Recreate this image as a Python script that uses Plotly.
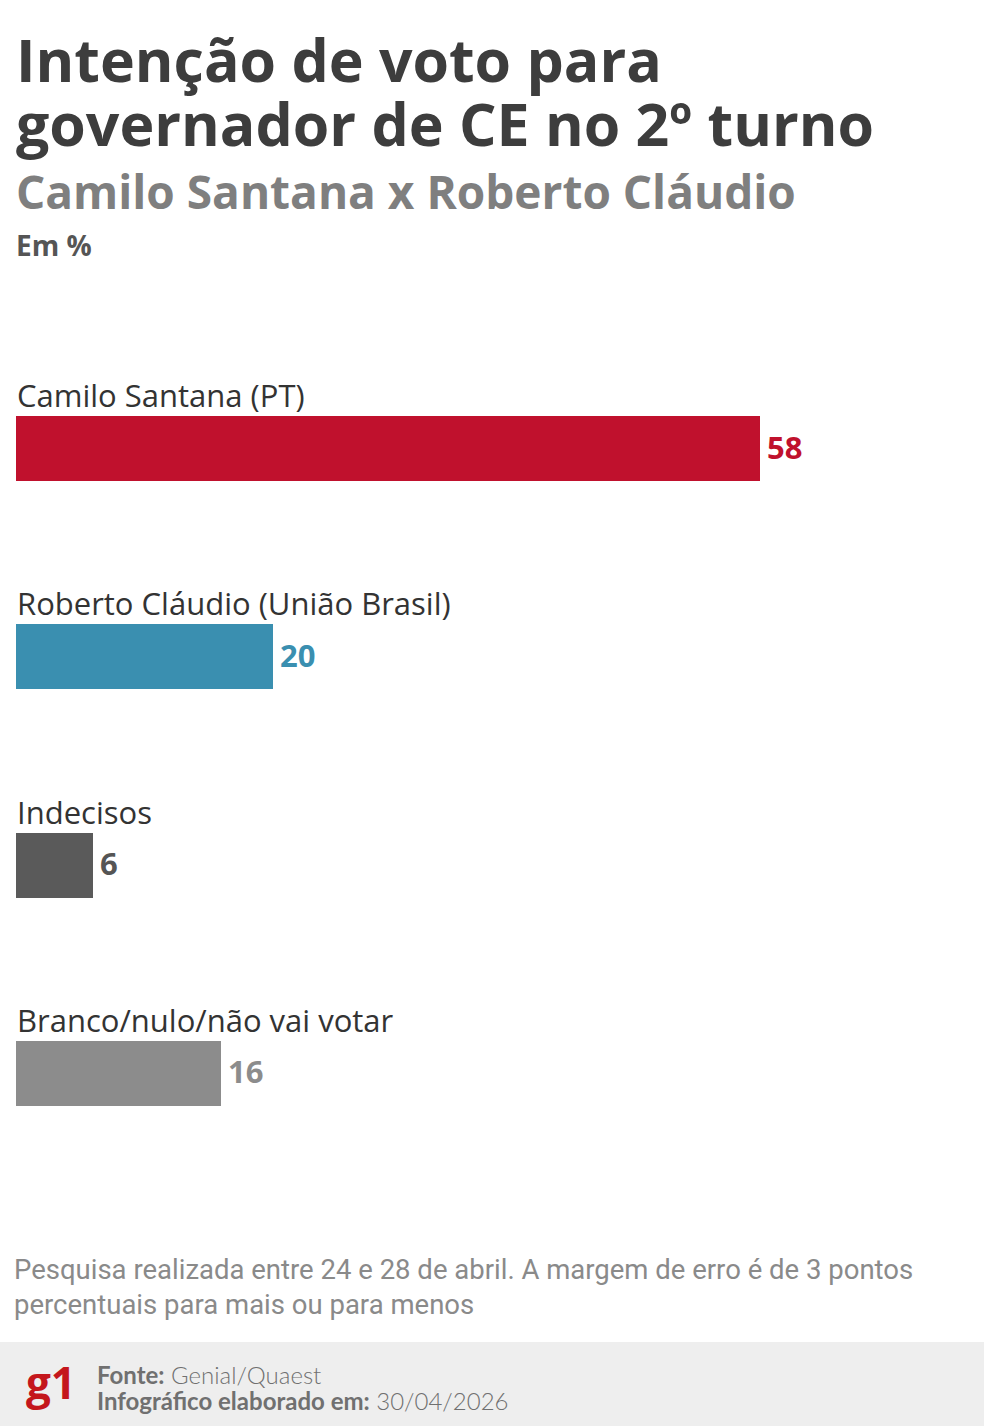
import plotly.graph_objects as go

W, H = 984, 1426

categories = ["Camilo Santana (PT)", "Roberto Cláudio (União Brasil)", "Indecisos", "Branco/nulo/não vai votar"]
values = [58, 20, 6, 16]
bar_colors = ["#c0112d", "#3a8fb0", "#5a5a5a", "#8c8c8c"]
label_colors = ["#c0112d", "#3a8fb0", "#555555", "#8c8c8c"]

title_lines = ["Intenção de voto para", "governador de CE no 2º turno"]
subtitle = "Camilo Santana x Roberto Cláudio"
unit = "Em %"
note_lines = ["Pesquisa realizada entre 24 e 28 de abril. A margem de erro é de 3 pontos",
              "percentuais para mais ou para menos"]
source = "Genial/Quaest"
date = "30/04/2026"

px_per_unit = 744 / 58
x0_px = 16
step_px = 208.3
first_center_px = 448.5

ypos = list(range(len(categories)))

fig = go.Figure()
fig.add_trace(go.Bar(
    x=values, y=ypos, orientation="h", width=65 / step_px,
    marker=dict(color=bar_colors, line=dict(width=0)),
    hoverinfo="skip", showlegend=False,
))

def py(p):
    return 1 - p / H

ann = []
# titles
ann.append(dict(text="<b>" + title_lines[0] + "</b>", x=14 / W, y=py(59), xref="paper", yref="paper",
                xanchor="left", yanchor="middle", showarrow=False,
                font=dict(family="Open Sans", size=59, color="#3d3d3d")))
ann.append(dict(text="<b>" + title_lines[1] + "</b>", x=14 / W, y=py(123), xref="paper", yref="paper",
                xanchor="left", yanchor="middle", showarrow=False,
                font=dict(family="Open Sans", size=59, color="#3d3d3d")))
ann.append(dict(text="<b>" + subtitle + "</b>", x=14 / W, y=py(191), xref="paper", yref="paper",
                xanchor="left", yanchor="middle", showarrow=False,
                font=dict(family="Open Sans", size=46, color="#7f7f7f")))
ann.append(dict(text="<b>" + unit + "</b>", x=14 / W, y=py(245), xref="paper", yref="paper",
                xanchor="left", yanchor="middle", showarrow=False,
                font=dict(family="Open Sans", size=28, color="#555555")))

# category labels and values
for i, (c, v) in enumerate(zip(categories, values)):
    ann.append(dict(text=c, x=0, y=i - 53.5 / step_px, xref="x", yref="y",
                    xanchor="left", yanchor="middle", showarrow=False, xshift=-1,
                    font=dict(family="Open Sans", size=31, color="#333333")))
    ann.append(dict(text="<b>" + str(v) + "</b>", x=v, y=i, xref="x", yref="y",
                    xanchor="left", yanchor="middle", showarrow=False, xshift=5, yshift=2,
                    font=dict(family="Open Sans", size=31, color=label_colors[i])))

# notes
for j, (line, cy) in enumerate(zip(note_lines, [1269, 1304])):
    ann.append(dict(text=line, x=12 / W, y=py(cy), xref="paper", yref="paper",
                    xanchor="left", yanchor="middle", showarrow=False,
                    font=dict(family="Roboto", size=27.5, color="#8a8a8a")))

# footer
ann.append(dict(text="<b>g1</b>", x=24 / W, y=py(1382), xref="paper", yref="paper",
                xanchor="left", yanchor="middle", showarrow=False,
                font=dict(family="Open Sans", size=44, color="#c4161c")))
ann.append(dict(text="<b>Fonte:</b> " + source, x=95 / W, y=py(1374), xref="paper", yref="paper",
                xanchor="left", yanchor="middle", showarrow=False,
                font=dict(family="Lato", size=24, color="#707070", weight=300)))
ann.append(dict(text="<b>Infográfico elaborado em:</b> " + date, x=95 / W, y=py(1400), xref="paper", yref="paper",
                xanchor="left", yanchor="middle", showarrow=False,
                font=dict(family="Lato", size=24, color="#707070", weight=300)))

shapes = [dict(type="rect", xref="paper", yref="paper", x0=0, x1=1, y0=0, y1=py(1342),
               fillcolor="#eeeeee", line=dict(width=0), layer="below")]

fig.update_layout(
    width=W, height=H,
    margin=dict(l=0, r=0, t=0, b=0),
    paper_bgcolor="white", plot_bgcolor="rgba(0,0,0,0)",
    xaxis=dict(range=[-x0_px / px_per_unit, (W - x0_px) / px_per_unit], visible=False, fixedrange=True),
    yaxis=dict(range=[(H - first_center_px) / step_px, -first_center_px / step_px], visible=False, fixedrange=True),
    annotations=ann, shapes=shapes, bargap=0,
)

fig.write_html("out.html", config={"displayModeBar": False},
               post_script="document.body.style.margin='0px';")
